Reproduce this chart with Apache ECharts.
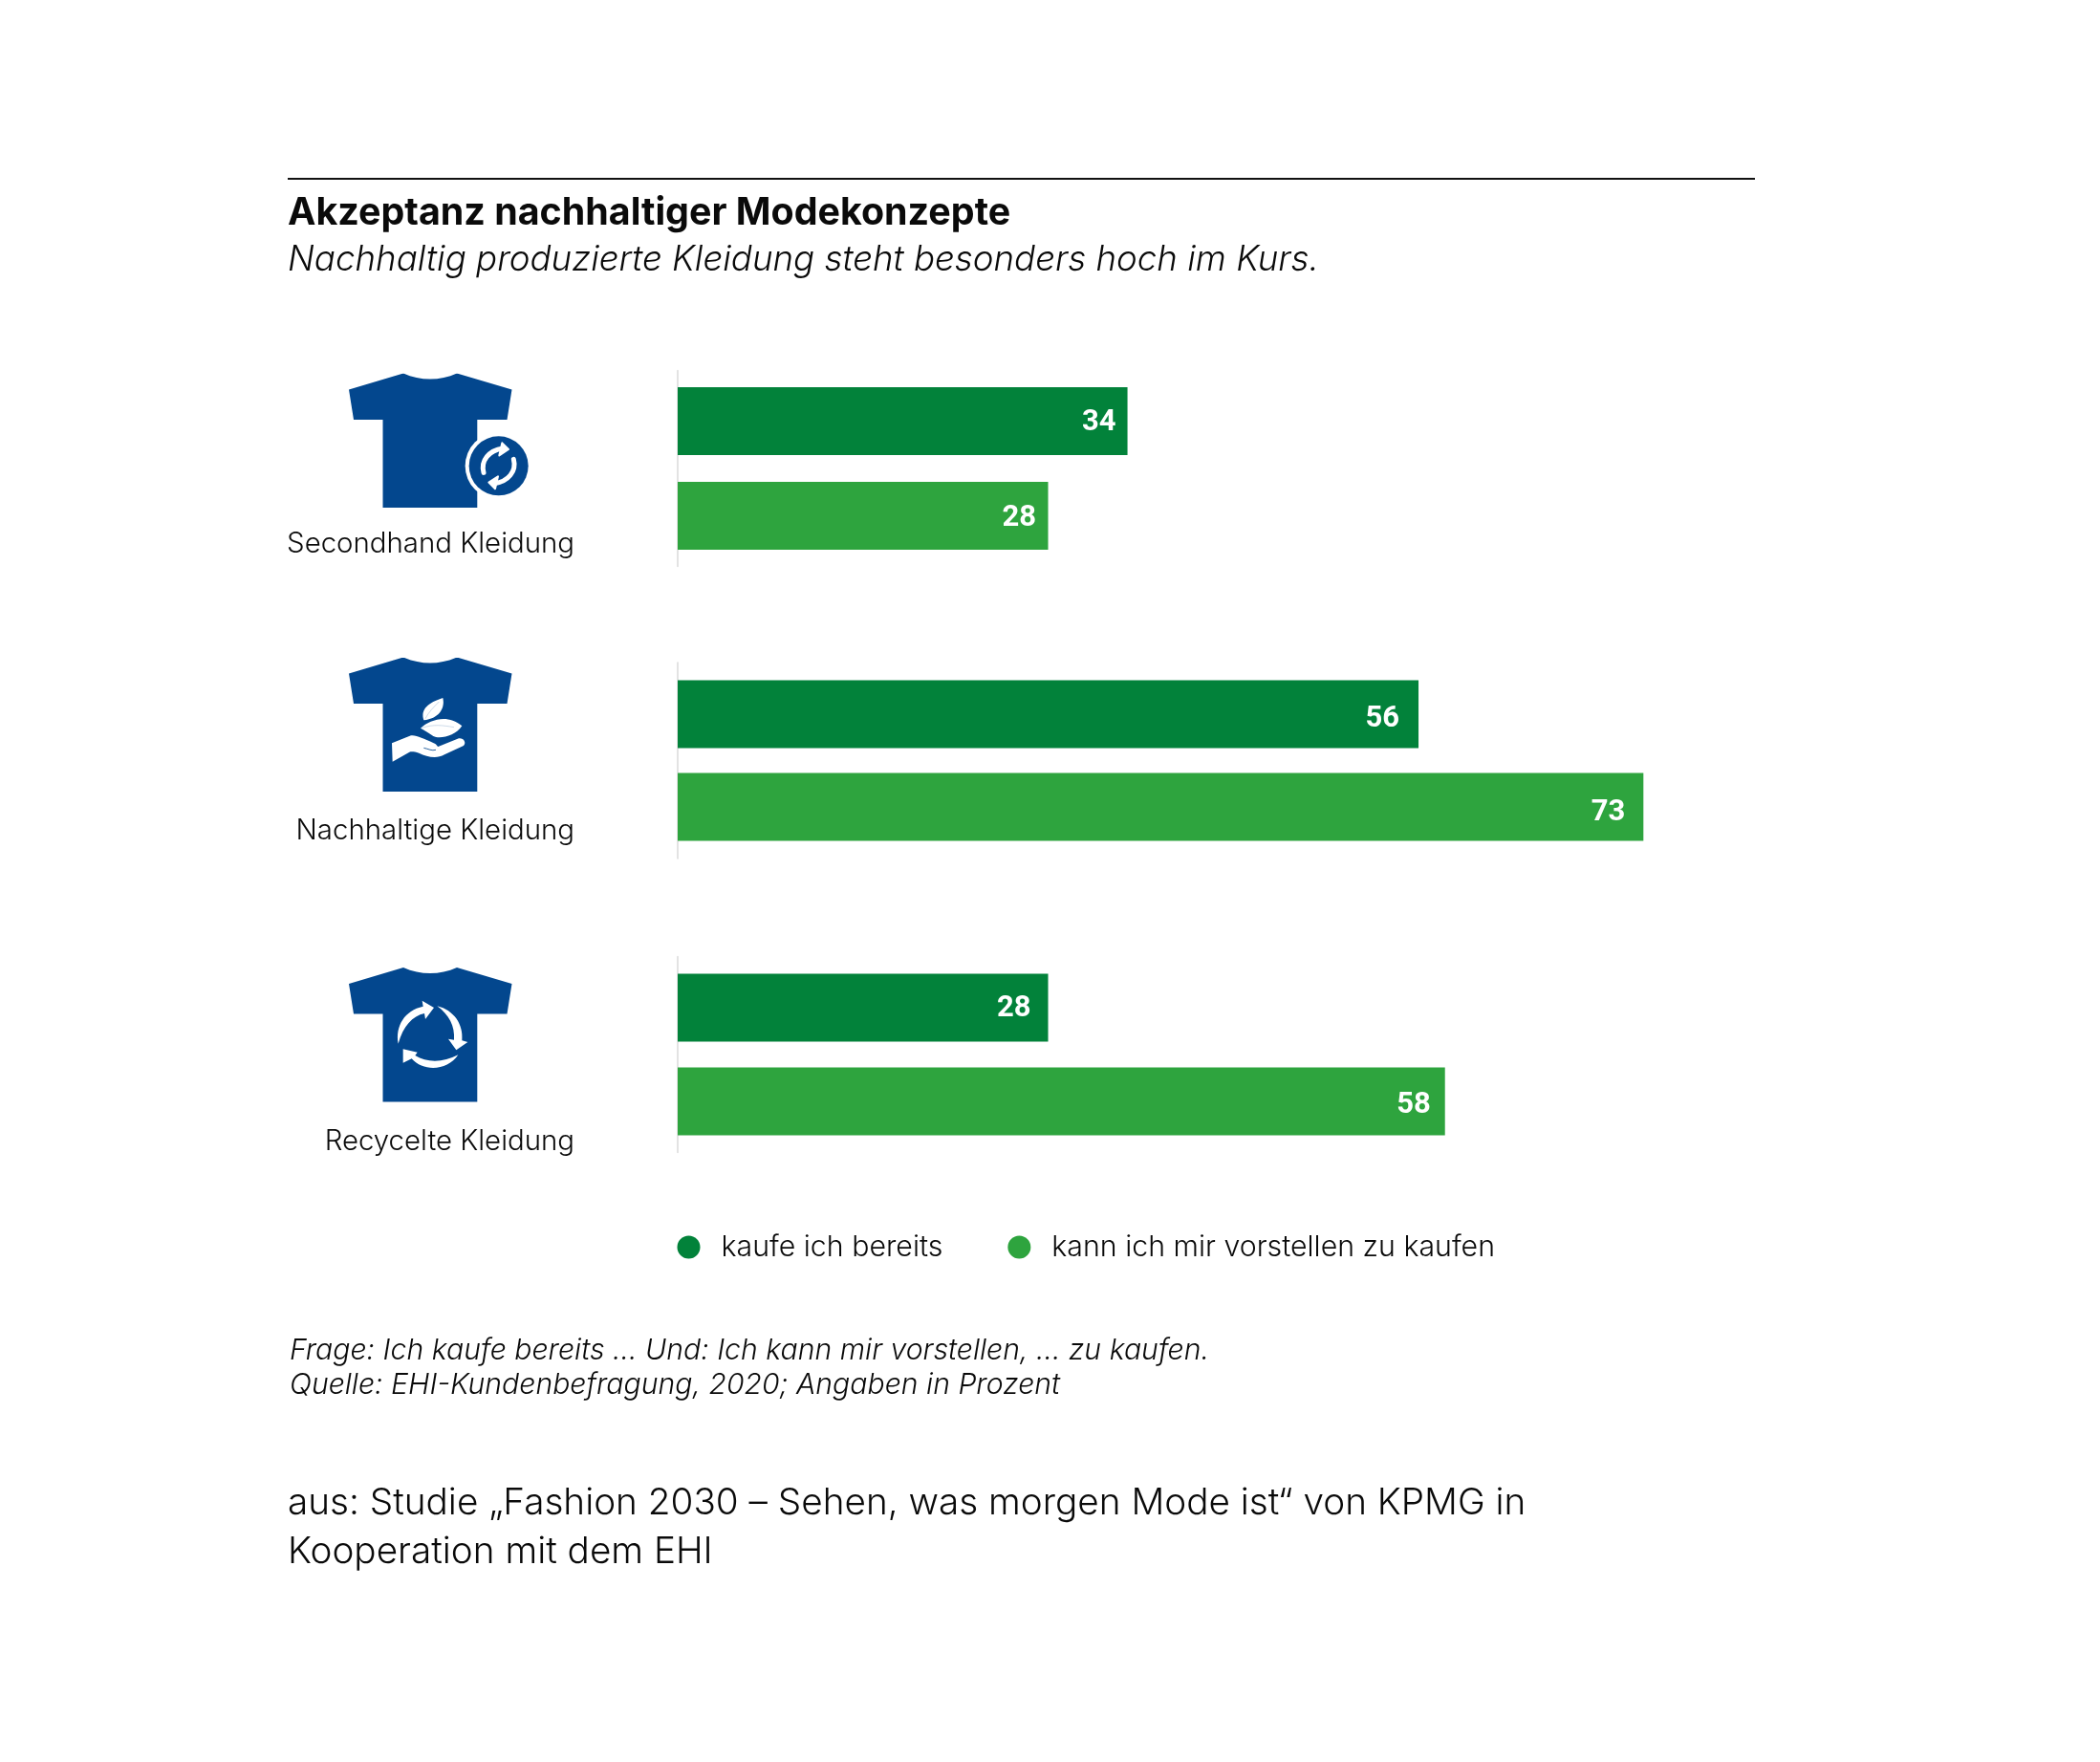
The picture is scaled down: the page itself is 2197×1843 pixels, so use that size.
<!DOCTYPE html>
<html lang="de">
<head>
<meta charset="utf-8">
<title>Akzeptanz nachhaltiger Modekonzepte</title>
<style>html,body{margin:0;padding:0;background:#fff}#chart{width:2197px;height:1843px}</style>
<script src="https://cdn.jsdelivr.net/npm/echarts@6/dist/echarts.min.js"></script>
</head>
<body>
<div id="chart"></div>
<script>
// ---- data ----
const categories = ['Secondhand Kleidung', 'Nachhaltige Kleidung', 'Recycelte Kleidung'];
const seriesNames = ['kaufe ich bereits', 'kann ich mir vorstellen zu kaufen'];
const kaufeBereits = [34, 56, 28];
const kannVorstellen = [28, 73, 58];
const titleText = 'Akzeptanz nachhaltiger Modekonzepte';
const subtitleText = 'Nachhaltig produzierte Kleidung steht besonders hoch im Kurs.';
const noteLines = ['Frage: Ich kaufe bereits … Und: Ich kann mir vorstellen, … zu kaufen.', 'Quelle: EHI-Kundenbefragung, 2020; Angaben in Prozent'];
const sourceLines = ['aus: Studie „Fashion 2030 – Sehen, was morgen Mode ist“ von KPMG in', 'Kooperation mit dem EHI'];

// ---- layout and style ----
const DARK = '#02823a', LIGHT = '#2ea43e', BLUE = '#03478e', INK = '#0a0a0a';
const FONT = 'Inter';
const gridTops = [387.75, 693.3, 1000.75];
const gridH = 204.5;
const barGaps = ['39.4%', '36.6%', '38%'];
const labelShift = [79, 74, 91];
const shirtTops = [390.4, 687.5, 1012];
const nudgeA = [[2, 1.5], [-6, 5.5], [-4, 1.5]];
const nudgeB = [[1.5, 2.5], [-5, 6], [-1, 4]];

const SHIRT = 'M57,0 C75,8 95,8 113,0 L170.5,17 L165.5,48.5 L134.3,48.5 L134.3,140.5 L35.5,140.5 L35.5,48.5 L5,48.5 L0,17 Z';
const icons = [
  // rotating arrows on a badge
  `<g transform="translate(105,54.6) scale(.33333)">
     <circle cx="155" cy="127" r="105" fill="#fff"/><circle cx="155" cy="127" r="93" fill="${BLUE}"/>
     <g fill="none" stroke="#fff" stroke-width="15" stroke-linecap="round"><path d="M108,148 C98,110 125,78 168,72"/><path d="M202,106 C212,144 185,176 142,182"/></g>
     <g fill="#fff" stroke="#fff" stroke-width="6" stroke-linejoin="round"><path d="M166,55 L186,75 L157,94 Z"/><path d="M144,199 L124,179 L153,160 Z"/></g>
   </g>`,
  // hand with leaves
  `<g transform="translate(35,32.5) scale(.33333)" fill="#fff">
     <path d="M130,100 C118,65 145,45 190,30 C198,65 175,95 130,100 Z"/>
     <path d="M120,125 C150,98 205,80 250,118 C230,150 180,160 160,150 C145,140 130,130 120,125 Z"/>
     <path d="M30,172 L90,148 C105,145 130,158 158,170 C172,175 172,182 175,183 L240,157 C255,155 265,170 255,180 L195,208 C170,222 140,215 115,203 C100,198 90,198 85,200 L32,230 Z"/>
     <path d="M130,187 C145,190 155,197 168,193" fill="none" stroke="${BLUE}" stroke-width="2.5"/>
     <path d="M125,124 C160,112 190,116 225,122" fill="none" stroke="${BLUE}" stroke-width="1" opacity=".6"/>
     <path d="M135,95 C145,75 160,60 178,42" fill="none" stroke="${BLUE}" stroke-width="1" opacity=".6"/>
   </g>`,
  // recycling circle
  `<g transform="translate(35,28) scale(.33333)" fill="#fff">
     <path d="M50,155 C40,100 70,50 128,38 L125,20 L162,42 L135,78 L132,60 C95,68 65,100 50,155 Z"/>
     <path d="M172,37 C225,50 255,95 250,145 L268,150 L232,175 L207,140 L225,143 C228,100 210,65 172,37 Z"/>
     <path d="M238,190 C205,240 130,245 92,202 L65,215 L65,172 L110,182 L103,192 C140,215 190,215 238,190 Z"/>
   </g>`
];
const iconUri = inner => 'data:image/svg+xml;charset=utf-8,' + encodeURIComponent(
  `<svg xmlns="http://www.w3.org/2000/svg" width="200" height="150" viewBox="0 0 200 150"><path d="${SHIRT}" fill="${BLUE}"/>${inner}</svg>`);

const textEl = (text, x, y, font) => ({
  type: 'text', x, y, silent: true,
  style: { text, font, fill: INK, verticalAlign: 'middle', align: 'left' }
});

const grids = [], xAxes = [], yAxes = [], series = [];
categories.forEach((cat, i) => {
  grids.push({ left: 709, width: 1384, top: gridTops[i], height: gridH, containLabel: false });
  xAxes.push({ gridIndex: i, type: 'value', min: 0, max: 100, show: false });
  yAxes.push({
    gridIndex: i, type: 'category', data: [cat], inverse: true,
    axisTick: { show: false }, splitLine: { show: false },
    axisLine: { show: true, lineStyle: { color: '#e3e3e3', width: 2 } },
    axisLabel: {
      show: true, margin: 108, color: INK, fontFamily: FONT, fontWeight: 300, fontSize: 29.4,
      lineHeight: labelShift[i] * 2,
      formatter: v => '\n' + v
    }
  });
  [[kaufeBereits, DARK, nudgeA], [kannVorstellen, LIGHT, nudgeB]].forEach(([vals, color, nudge], s) => {
    series.push({
      type: 'bar', name: seriesNames[s], xAxisIndex: i, yAxisIndex: i,
      barWidth: 71, barGap: barGaps[i], itemStyle: { color }, silent: true,
      data: [{ value: vals[i] }],
      label: {
        show: true, position: 'insideRight', distance: 14, offset: nudge[i],
        color: '#fff', fontFamily: 'Roboto', fontWeight: 700, fontSize: 31
      }
    });
  });
});

const chart = echarts.init(document.getElementById('chart'));
chart.setOption({
  animation: false,
  backgroundColor: '#fff',
  title: {
    text: titleText, subtext: subtitleText, left: 301, top: 204, itemGap: 10, padding: 0,
    textStyle: { fontFamily: FONT, fontWeight: 700, fontSize: 39.4, color: INK },
    subtextStyle: { fontFamily: FONT, fontWeight: 300, fontStyle: 'italic', fontSize: 36.7, color: INK }
  },
  legend: {
    data: seriesNames, left: 708.5, top: 1289.5, padding: 0, icon: 'circle', itemWidth: 24, itemHeight: 24, itemGap: 68,
    selectedMode: false,
    textStyle: { fontFamily: FONT, fontWeight: 300, fontSize: 30.3, color: INK, padding: [0, 0, 0, 17] }
  },
  grid: grids, xAxis: xAxes, yAxis: yAxes, series,
  graphic: [
    { type: 'line', shape: { x1: 301, y1: 187, x2: 1836, y2: 187 }, style: { stroke: '#111', lineWidth: 2 }, silent: true },
    ...icons.map((inner, i) => ({
      type: 'image', x: 365, y: shirtTops[i], silent: true,
      style: { image: iconUri(inner), width: 200, height: 150 }
    })),
    textEl(noteLines[0], 303, 1413, `italic 300 30.2px ${FONT}`),
    textEl(noteLines[1], 303, 1449, `italic 300 30.2px ${FONT}`),
    textEl(sourceLines[0], 301, 1572.5, `300 38.7px ${FONT}`),
    textEl(sourceLines[1], 301, 1623, `300 38.7px ${FONT}`)
  ]
});
</script>
</body>
</html>
